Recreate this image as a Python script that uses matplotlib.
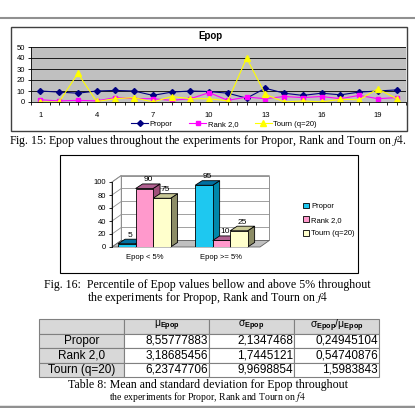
import numpy as np
import matplotlib
matplotlib.use("Agg")
import matplotlib.pyplot as plt
from matplotlib.patches import Polygon, Rectangle, Patch
from matplotlib.lines import Line2D

plt.rcParams["font.family"] = ["Liberation Sans", "DejaVu Sans"]
plt.rcParams["mathtext.fontset"] = "custom"
plt.rcParams["mathtext.rm"] = "Liberation Sans"
plt.rcParams["mathtext.bf"] = "Liberation Sans:bold"

# --- data -------------------------------------------------------------
runs = np.arange(1, 21)
propor = [10, 9, 8, 10, 10.5, 10, 6, 9, 10, 9.5, 8, 3.5, 12.5, 8, 6, 8, 6.5, 9, 10, 11]
rank = [2, 1, 1.5, 1, 4, 3, 3, 1.5, 3, 8.5, 1.5, 4.5, 3, 5, 4, 5, 3, 6, 3, 4]
tourn = [0, 0, 26, 0.5, 3, 4, 0, 5, 3, 3, 1, 40, 7, 0, 1, 0, 2.5, 2, 12, 3]

series = ["Propor", "Rank 2,0", "Tourn (q=20)"]
groups = ["Epop < 5%", "Epop >= 5%"]
pct_propor = [5, 95]
pct_rank = [90, 10]
pct_tourn = [75, 25]

row_labels = ["Propor", "Rank 2,0", "Tourn (q=20)"]
mu = ["8,55777883", "3,18685456", "6,23747706"]
sigma = ["2,1347468", "1,7445121", "9,9698854"]
ratio = ["0,24945104", "0,54740876", "1,5983843"]

W, H = 415, 408
fig = plt.figure(figsize=(W / 100, H / 100), dpi=100)


def box(l, t, r, b):
    return [l / W, 1 - b / H, (r - l) / W, (b - t) / H]


def fy(y):
    return 1 - y / H


serif = dict(family="Liberation Serif", math_fontfamily="stix", ha="center", va="center")

# rules at top and bottom of the page
fig.add_artist(Line2D([0, 1], [fy(18), fy(18)], color="#909090", lw=1.5))
fig.add_artist(Line2D([0, 1], [fy(406.5), fy(406.5)], color="#909090", lw=2.5))

# --- line chart -------------------------------------------------------
fig.add_artist(Rectangle((11 / W, fy(131)), 396 / W, 104 / H, transform=fig.transFigure,
                         fill=False, edgecolor="#404040", lw=1))
ax1 = fig.add_axes(box(31, 47, 406, 102))
ax1.set_facecolor("#c0c0c0")
ax1.plot(runs, propor, color="#000080", marker="D", ms=3, lw=0.8, label=series[0])
ax1.plot(runs, rank, color="#ff00ff", marker="s", ms=3.5, lw=0.8, label=series[1])
ax1.plot(runs, tourn, color="#ffff00", marker="^", ms=4, lw=0.8, label=series[2])
ax1.set_xlim(0.5, 20.5)
ax1.set_ylim(0, 50)
ax1.set_yticks(range(0, 51, 10))
ax1.set_xticks(range(1, 21, 3))
ax1.set_xticks(np.arange(0.5, 21, 0.5), minor=True)
ax1.tick_params(axis="x", which="major", length=0, pad=7, labelsize=5.5)
ax1.tick_params(axis="x", which="minor", length=2.5, width=0.6)
ax1.tick_params(axis="y", length=2.5, width=0.6, pad=2, labelsize=5.5)
ax1.grid(axis="y", color="black", lw=0.6)
ax1.set_axisbelow(True)
for s in ["top", "right"]:
    ax1.spines[s].set_visible(False)
ax1.spines["left"].set_linewidth(0.6)
ax1.spines["bottom"].set_linewidth(0.6)
fig.text(210 / W, fy(36), "Epop", ha="center", va="center", fontsize=7, fontweight="bold")
fig.legend(loc="center", bbox_to_anchor=(224 / W, fy(124)), ncol=3, frameon=False,
           fontsize=5.5, handlelength=2.2, handletextpad=0.2, columnspacing=2.2)

fig.text(207.5 / W, fy(141), r"Fig. 15: Epop values throughout the experiments for Propor, Rank and Tourn on $\mathit{f4}$.",
         fontsize=8.6, **serif)

# --- pseudo 3D bar chart ---------------------------------------------
fig.add_artist(Rectangle((60 / W, fy(273)), 298 / W, 118 / H, transform=fig.transFigure,
                         fill=False, edgecolor="black", lw=0.8))
ax2 = fig.add_axes(box(112, 182, 260, 247))
x0, x1 = -0.42, 1.5
ax2.set_xlim(x0, x1)
ax2.set_ylim(0, 100)
wdx, wdy = 0.12, 10
bdx, bdy = 0.09, 7
wall = dict(facecolor="white", edgecolor="#808080", lw=0.6, clip_on=False, zorder=0)
ax2.add_patch(Polygon([(x0 + wdx, wdy), (x1 + wdx, wdy), (x1 + wdx, 100 + wdy), (x0 + wdx, 100 + wdy)], **wall))
ax2.add_patch(Polygon([(x0, 0), (x0 + wdx, wdy), (x0 + wdx, 100 + wdy), (x0, 100)], **wall))
ax2.add_patch(Polygon([(x0, 0), (x1, 0), (x1 + wdx, wdy), (x0 + wdx, wdy)], facecolor="#c0c0c0",
                      edgecolor="#606060", lw=0.6, clip_on=False, zorder=0.5))
for g in range(20, 101, 20):
    ax2.plot([x0, x0 + wdx, x1 + wdx], [g, g + wdy, g + wdy], color="#909090", lw=0.6,
             clip_on=False, zorder=0.2)

w = 0.227
colors = [("#1ec8f0", "#0088aa", "#0070a0"),
          ("#ff99cc", "#a0507a", "#b06090"),
          ("#ffffcc", "#8c8c66", "#c8c896")]
vals = [pct_propor, pct_rank, pct_tourn]
gx = np.arange(len(groups))
for i, (v, (fc, sc, tc), name) in enumerate(zip(vals, colors, series)):
    xs = gx + (i - 1) * w
    z = 2 + i
    ax2.bar(xs, v, w, color=fc, edgecolor="black", lw=0.6, zorder=z + 0.1, label=name)
    for xc, h in zip(xs, v):
        r = xc + w / 2
        l = xc - w / 2
        ax2.add_patch(Polygon([(r, 0), (r + bdx, bdy), (r + bdx, h + bdy), (r, h)],
                              facecolor=sc, edgecolor="black", lw=0.6, zorder=z, clip_on=False))
        ax2.add_patch(Polygon([(l, h), (r, h), (r + bdx, h + bdy), (l + bdx, h + bdy)],
                              facecolor=tc, edgecolor="black", lw=0.6, zorder=z, clip_on=False))
        ax2.text(xc + bdx / 2, h + bdy + 1, str(h), ha="center", va="bottom", fontsize=6, zorder=10)

ax2.set_xticks(gx)
ax2.set_xticklabels(groups)
ax2.set_yticks(range(0, 101, 20))
ax2.tick_params(axis="x", length=0, pad=5, labelsize=5.5)
ax2.tick_params(axis="y", length=2.5, width=0.6, pad=2, labelsize=5.5)
for s in ["top", "right", "bottom"]:
    ax2.spines[s].set_visible(False)
ax2.spines["left"].set_linewidth(0.6)
ax2.patch.set_visible(False)
handles = [Patch(facecolor=c[0], edgecolor="black", lw=0.6) for c in colors]
fig.legend(handles, series, loc="center left", bbox_to_anchor=(296 / W, fy(220)), frameon=False,
           fontsize=5.5, handlelength=0.8, handleheight=0.8, handletextpad=0.3, labelspacing=0.8)

fig.text(207.5 / W, fy(285), "Fig. 16:  Percentile of Epop values bellow and above 5% throughout",
         fontsize=8.6, **serif)
fig.text(207.5 / W, fy(298.5), r"the experiments for Propop, Rank and Tourn on $\mathit{f4}$",
         fontsize=8.6, **serif)

# --- table ------------------------------------------------------------
ax3 = fig.add_axes(box(39, 319, 379, 377))
ax3.axis("off")
header = ["", r"$\mathrm{μ}_{\mathbf{Epop}}$", r"$\mathrm{σ}_{\mathbf{Epop}}$",
          r"$\mathrm{σ}_{\mathbf{Epop}}/\mathrm{μ}_{\mathbf{Epop}}$"]
cells = [header] + [[r, a, b, c] for r, a, b, c in zip(row_labels, mu, sigma, ratio)]
tb = ax3.table(cellText=cells, bbox=[0, 0, 1, 1], colWidths=[0.25] * 4)
tb.auto_set_font_size(False)
tb.set_fontsize(8.5)
for (ri, ci), cell in tb.get_celld().items():
    cell.set_edgecolor("#808080")
    cell.set_linewidth(0.8)
    txt = cell.get_text()
    if ri == 0 or ci == 0:
        cell.set_facecolor("#d8d8d8")
        cell._loc = "center"
        txt.set_horizontalalignment("center")
    else:
        cell._loc = "right"
        txt.set_horizontalalignment("right")
        cell.PAD = 0.01
    if ri == 0:
        txt.set_fontsize(7.5)

fig.text(207.5 / W, fy(385), "Table 8: Mean and standard deviation for Epop throughout",
         fontsize=8.6, **serif)
fig.text(207.5 / W, fy(397.5), r"the experiments for Propor, Rank and Tourn on $\mathit{f4}$",
         fontsize=7, **serif)

fig.savefig("out.png", dpi=100)
